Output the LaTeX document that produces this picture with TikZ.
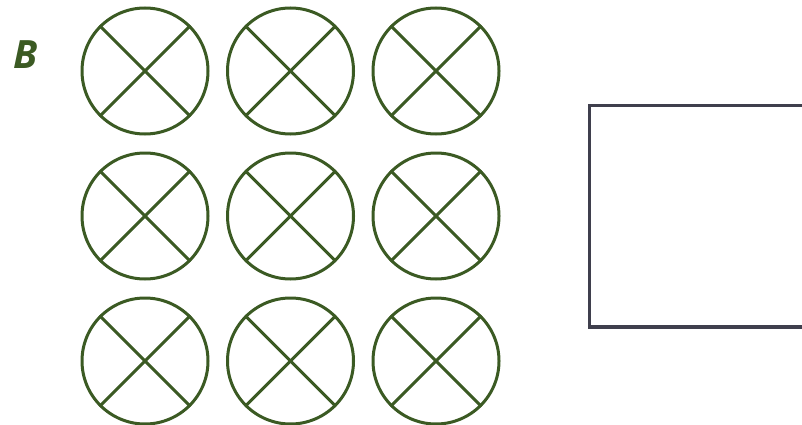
\documentclass[tikz,border=0pt]{standalone}
\usepackage{fontspec}
\setmainfont{Open Sans}
\definecolor{grn}{HTML}{3B5A23}
\definecolor{frm}{HTML}{3F3F4D}
\begin{document}
\begin{tikzpicture}[x=1pt,y=-1pt,
  xcirc/.style={circle,draw=grn,line width=3pt,minimum size=126pt,inner sep=0pt},
  xline/.style={draw=grn,line width=3pt}]
\useasboundingbox (0,0) rectangle (802,425);
\clip (0,0) rectangle (802,425);
\node[text=grn,font=\fontsize{39}{39}\selectfont\bfseries\itshape] (lbl) at (26,55) {B};
\foreach \i/\x in {1/145,2/290.5,3/436}{
  \foreach \j/\y in {1/71,2/216,3/361}{
    \node[xcirc] (c\i\j) at (\x,\y) {};
    \draw[xline] (c\i\j.north west) -- (c\i\j.south east);
    \draw[xline] (c\i\j.north east) -- (c\i\j.south west);
  }
}
\coordinate (r1) at (589.5,105.5);
\coordinate (r2) at (815,327);
\draw[frm,line width=3.5pt] (r1) rectangle (r2);
\end{tikzpicture}
\end{document}
